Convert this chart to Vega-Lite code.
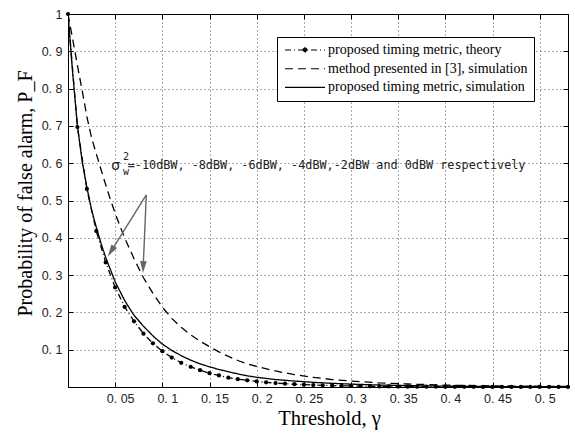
{
  "$schema": "https://vega.github.io/schema/vega-lite/v6.json",
  "width": 500,
  "height": 373,
  "autosize": "none",
  "padding": {"left": 68, "top": 14, "right": 7, "bottom": 48},
  "background": "white",
  "datasets": {
    "curves": [
      {"series": "proposed timing metric, theory", "x": 0.00, "y": 1.0},
      {"series": "proposed timing metric, theory", "x": 0.01, "y": 0.697},
      {"series": "proposed timing metric, theory", "x": 0.02, "y": 0.531},
      {"series": "proposed timing metric, theory", "x": 0.03, "y": 0.418},
      {"series": "proposed timing metric, theory", "x": 0.04, "y": 0.334},
      {"series": "proposed timing metric, theory", "x": 0.05, "y": 0.267},
      {"series": "proposed timing metric, theory", "x": 0.06, "y": 0.215},
      {"series": "proposed timing metric, theory", "x": 0.07, "y": 0.176},
      {"series": "proposed timing metric, theory", "x": 0.08, "y": 0.143},
      {"series": "proposed timing metric, theory", "x": 0.09, "y": 0.117},
      {"series": "proposed timing metric, theory", "x": 0.10, "y": 0.096},
      {"series": "proposed timing metric, theory", "x": 0.11, "y": 0.079},
      {"series": "proposed timing metric, theory", "x": 0.12, "y": 0.065},
      {"series": "proposed timing metric, theory", "x": 0.13, "y": 0.054},
      {"series": "proposed timing metric, theory", "x": 0.14, "y": 0.045},
      {"series": "proposed timing metric, theory", "x": 0.15, "y": 0.037},
      {"series": "proposed timing metric, theory", "x": 0.16, "y": 0.031},
      {"series": "proposed timing metric, theory", "x": 0.17, "y": 0.025},
      {"series": "proposed timing metric, theory", "x": 0.18, "y": 0.021},
      {"series": "proposed timing metric, theory", "x": 0.19, "y": 0.018},
      {"series": "proposed timing metric, theory", "x": 0.20, "y": 0.015},
      {"series": "proposed timing metric, theory", "x": 0.21, "y": 0.0125},
      {"series": "proposed timing metric, theory", "x": 0.22, "y": 0.0105},
      {"series": "proposed timing metric, theory", "x": 0.23, "y": 0.009},
      {"series": "proposed timing metric, theory", "x": 0.24, "y": 0.0075},
      {"series": "proposed timing metric, theory", "x": 0.25, "y": 0.0063},
      {"series": "proposed timing metric, theory", "x": 0.26, "y": 0.0053},
      {"series": "proposed timing metric, theory", "x": 0.27, "y": 0.0045},
      {"series": "proposed timing metric, theory", "x": 0.28, "y": 0.0038},
      {"series": "proposed timing metric, theory", "x": 0.29, "y": 0.0032},
      {"series": "proposed timing metric, theory", "x": 0.30, "y": 0.0027},
      {"series": "proposed timing metric, theory", "x": 0.31, "y": 0.0023},
      {"series": "proposed timing metric, theory", "x": 0.32, "y": 0.0019},
      {"series": "proposed timing metric, theory", "x": 0.33, "y": 0.0016},
      {"series": "proposed timing metric, theory", "x": 0.34, "y": 0.0014},
      {"series": "proposed timing metric, theory", "x": 0.35, "y": 0.0012},
      {"series": "proposed timing metric, theory", "x": 0.36, "y": 0.001},
      {"series": "proposed timing metric, theory", "x": 0.37, "y": 0.0009},
      {"series": "proposed timing metric, theory", "x": 0.38, "y": 0.0008},
      {"series": "proposed timing metric, theory", "x": 0.39, "y": 0.0007},
      {"series": "proposed timing metric, theory", "x": 0.40, "y": 0.0006},
      {"series": "proposed timing metric, theory", "x": 0.41, "y": 0.0005},
      {"series": "proposed timing metric, theory", "x": 0.42, "y": 0.0004},
      {"series": "proposed timing metric, theory", "x": 0.43, "y": 0.0004},
      {"series": "proposed timing metric, theory", "x": 0.44, "y": 0.0003},
      {"series": "proposed timing metric, theory", "x": 0.45, "y": 0.0003},
      {"series": "proposed timing metric, theory", "x": 0.46, "y": 0.0002},
      {"series": "proposed timing metric, theory", "x": 0.47, "y": 0.0002},
      {"series": "proposed timing metric, theory", "x": 0.48, "y": 0.0002},
      {"series": "proposed timing metric, theory", "x": 0.49, "y": 0.0001},
      {"series": "proposed timing metric, theory", "x": 0.50, "y": 0.0001},
      {"series": "proposed timing metric, theory", "x": 0.51, "y": 0.0001},
      {"series": "proposed timing metric, theory", "x": 0.52, "y": 0.0001},
      {"series": "proposed timing metric, theory", "x": 0.53, "y": 0.0001},
      {"series": "method presented in [3], simulation", "x": 0.000, "y": 1.0},
      {"series": "method presented in [3], simulation", "x": 0.005, "y": 0.932},
      {"series": "method presented in [3], simulation", "x": 0.010, "y": 0.862},
      {"series": "method presented in [3], simulation", "x": 0.015, "y": 0.795},
      {"series": "method presented in [3], simulation", "x": 0.020, "y": 0.725},
      {"series": "method presented in [3], simulation", "x": 0.025, "y": 0.668},
      {"series": "method presented in [3], simulation", "x": 0.030, "y": 0.625},
      {"series": "method presented in [3], simulation", "x": 0.035, "y": 0.583},
      {"series": "method presented in [3], simulation", "x": 0.040, "y": 0.542},
      {"series": "method presented in [3], simulation", "x": 0.045, "y": 0.502},
      {"series": "method presented in [3], simulation", "x": 0.050, "y": 0.466},
      {"series": "method presented in [3], simulation", "x": 0.055, "y": 0.432},
      {"series": "method presented in [3], simulation", "x": 0.060, "y": 0.400},
      {"series": "method presented in [3], simulation", "x": 0.070, "y": 0.344},
      {"series": "method presented in [3], simulation", "x": 0.080, "y": 0.293},
      {"series": "method presented in [3], simulation", "x": 0.090, "y": 0.251},
      {"series": "method presented in [3], simulation", "x": 0.100, "y": 0.214},
      {"series": "method presented in [3], simulation", "x": 0.110, "y": 0.184},
      {"series": "method presented in [3], simulation", "x": 0.120, "y": 0.160},
      {"series": "method presented in [3], simulation", "x": 0.130, "y": 0.140},
      {"series": "method presented in [3], simulation", "x": 0.140, "y": 0.123},
      {"series": "method presented in [3], simulation", "x": 0.150, "y": 0.108},
      {"series": "method presented in [3], simulation", "x": 0.160, "y": 0.094},
      {"series": "method presented in [3], simulation", "x": 0.170, "y": 0.082},
      {"series": "method presented in [3], simulation", "x": 0.180, "y": 0.071},
      {"series": "method presented in [3], simulation", "x": 0.190, "y": 0.062},
      {"series": "method presented in [3], simulation", "x": 0.200, "y": 0.055},
      {"series": "method presented in [3], simulation", "x": 0.220, "y": 0.043},
      {"series": "method presented in [3], simulation", "x": 0.240, "y": 0.033},
      {"series": "method presented in [3], simulation", "x": 0.260, "y": 0.026},
      {"series": "method presented in [3], simulation", "x": 0.280, "y": 0.020},
      {"series": "method presented in [3], simulation", "x": 0.300, "y": 0.016},
      {"series": "method presented in [3], simulation", "x": 0.330, "y": 0.011},
      {"series": "method presented in [3], simulation", "x": 0.360, "y": 0.008},
      {"series": "method presented in [3], simulation", "x": 0.400, "y": 0.005},
      {"series": "method presented in [3], simulation", "x": 0.450, "y": 0.003},
      {"series": "method presented in [3], simulation", "x": 0.500, "y": 0.002},
      {"series": "method presented in [3], simulation", "x": 0.530, "y": 0.0015},
      {"series": "proposed timing metric, simulation", "x": 0.000, "y": 1.0},
      {"series": "proposed timing metric, simulation", "x": 0.005, "y": 0.84},
      {"series": "proposed timing metric, simulation", "x": 0.010, "y": 0.70},
      {"series": "proposed timing metric, simulation", "x": 0.015, "y": 0.605},
      {"series": "proposed timing metric, simulation", "x": 0.020, "y": 0.535},
      {"series": "proposed timing metric, simulation", "x": 0.025, "y": 0.475},
      {"series": "proposed timing metric, simulation", "x": 0.030, "y": 0.428},
      {"series": "proposed timing metric, simulation", "x": 0.035, "y": 0.385},
      {"series": "proposed timing metric, simulation", "x": 0.040, "y": 0.347},
      {"series": "proposed timing metric, simulation", "x": 0.050, "y": 0.282},
      {"series": "proposed timing metric, simulation", "x": 0.060, "y": 0.232},
      {"series": "proposed timing metric, simulation", "x": 0.070, "y": 0.192},
      {"series": "proposed timing metric, simulation", "x": 0.080, "y": 0.163},
      {"series": "proposed timing metric, simulation", "x": 0.090, "y": 0.137},
      {"series": "proposed timing metric, simulation", "x": 0.100, "y": 0.115},
      {"series": "proposed timing metric, simulation", "x": 0.110, "y": 0.098},
      {"series": "proposed timing metric, simulation", "x": 0.120, "y": 0.084},
      {"series": "proposed timing metric, simulation", "x": 0.130, "y": 0.072},
      {"series": "proposed timing metric, simulation", "x": 0.140, "y": 0.062},
      {"series": "proposed timing metric, simulation", "x": 0.150, "y": 0.054},
      {"series": "proposed timing metric, simulation", "x": 0.160, "y": 0.047},
      {"series": "proposed timing metric, simulation", "x": 0.170, "y": 0.041},
      {"series": "proposed timing metric, simulation", "x": 0.180, "y": 0.035},
      {"series": "proposed timing metric, simulation", "x": 0.190, "y": 0.030},
      {"series": "proposed timing metric, simulation", "x": 0.200, "y": 0.026},
      {"series": "proposed timing metric, simulation", "x": 0.220, "y": 0.020},
      {"series": "proposed timing metric, simulation", "x": 0.240, "y": 0.016},
      {"series": "proposed timing metric, simulation", "x": 0.260, "y": 0.0125},
      {"series": "proposed timing metric, simulation", "x": 0.280, "y": 0.0098},
      {"series": "proposed timing metric, simulation", "x": 0.300, "y": 0.0077},
      {"series": "proposed timing metric, simulation", "x": 0.330, "y": 0.0053},
      {"series": "proposed timing metric, simulation", "x": 0.360, "y": 0.0037},
      {"series": "proposed timing metric, simulation", "x": 0.400, "y": 0.0023},
      {"series": "proposed timing metric, simulation", "x": 0.450, "y": 0.0013},
      {"series": "proposed timing metric, simulation", "x": 0.500, "y": 0.0008},
      {"series": "proposed timing metric, simulation", "x": 0.530, "y": 0.0006}
    ],
    "arrows": [
      {"arrow": "a", "x": 0.083, "y": 0.515, "x2": 0.0456, "y2": 0.3637},
      {"arrow": "b", "x": 0.083, "y": 0.515, "x2": 0.0797, "y2": 0.3216}
    ],
    "sigma": [
      {"x": 0.0458, "y": 0.593, "t": "σ"}
    ],
    "scripts": [
      {"x": 0.0584, "y": 0.617, "t": "2"},
      {"x": 0.0584, "y": 0.577, "t": "w"}
    ],
    "note": [
      {"x": 0.0633, "y": 0.5956, "t": "=-10dBW,  -8dBW,  -6dBW,  -4dBW,-2dBW and 0dBW respectively"}
    ]
  },
  "layer": [
    {
      "data": {"name": "curves"},
      "mark": {"type": "line", "color": "black", "strokeWidth": 1.3, "clip": true},
      "encoding": {
        "x": {
          "field": "x", "type": "quantitative",
          "scale": {"domain": [0, 0.53], "nice": false, "zero": false},
          "axis": {
            "orient": "bottom",
            "values": [0.05, 0.1, 0.15, 0.2, 0.25, 0.3, 0.35, 0.4, 0.45, 0.5],
            "labelExpr": "replace(format(datum.value, '.2~f'), '.', '. ')",
            "labelFont": "Liberation Sans", "labelFontSize": 12.5, "labelColor": "#222",
            "labelOffset": 5, "labelPadding": 10, "labelFlush": false,
            "tickSize": -5, "tickColor": "black", "tickWidth": 1,
            "domainColor": "black", "domainWidth": 1,
            "grid": true, "gridColor": "#555", "gridDash": [1, 3], "gridWidth": 1,
            "title": "Threshold, γ", "titleFont": "Liberation Serif", "titleFontSize": 20.5,
            "titleFontWeight": "normal", "titleColor": "black", "titlePadding": 4,
            "titleX": 261, "titleAlign": "center"
          }
        },
        "y": {
          "field": "y", "type": "quantitative",
          "scale": {"domain": [0, 1], "nice": false, "zero": false},
          "axis": {
            "orient": "left",
            "values": [0.1, 0.2, 0.3, 0.4, 0.5, 0.6, 0.7, 0.8, 0.9, 1],
            "labelExpr": "replace(format(datum.value, '.1~f'), '.', '. ')",
            "labelFont": "Liberation Sans", "labelFontSize": 12.5, "labelColor": "#222",
            "labelPadding": 11, "labelFlush": false,
            "tickSize": -5, "tickColor": "black", "tickWidth": 1,
            "domainColor": "black", "domainWidth": 1,
            "grid": true, "gridColor": "#555", "gridDash": [1, 3], "gridWidth": 1,
            "title": "Probability of false alarm, P_F", "titleFont": "Liberation Serif", "titleFontSize": 20,
            "titleFontWeight": "normal", "titleColor": "black", "titlePadding": 6,
            "titleY": 179, "titleAlign": "center"
          }
        },
        "order": {"field": "x", "type": "quantitative"},
        "strokeDash": {
          "field": "series", "type": "nominal",
          "scale": {
            "domain": ["proposed timing metric, theory", "method presented in [3], simulation", "proposed timing metric, simulation"],
            "range": [[6, 3, 1, 3], [8, 5], [1, 0]]
          },
          "legend": {
            "title": null, "orient": "none", "legendX": 209, "legendY": 23,
            "symbolType": "M-4,0H4", "symbolSize": 100, "symbolStrokeWidth": 1.2, "symbolStrokeColor": "black",
            "symbolOffset": 15,
            "labelFont": "Liberation Serif", "labelFontSize": 14, "labelColor": "black", "labelLimit": 400,
            "labelOffset": 16, "fillColor": "white", "strokeColor": "black", "padding": 6, "rowPadding": 4.7,
            "encode": {
              "symbols": {
                "update": {
                  "shape": {"signal": "datum.value === 'proposed timing metric, theory' ? 'M-4,0H4M-0.44,0A0.44,0.44,0,1,1,0.44,0A0.44,0.44,0,1,1,-0.44,0Z' : 'M-4,0H4'"},
                  "fill": {"signal": "datum.value === 'proposed timing metric, theory' ? 'black' : 'transparent'"},
                  "stroke": {"value": "black"},
                  "strokeWidth": {"value": 1.2},
                  "opacity": {"value": 1}
                }
              }
            }
          }
        },
        "strokeWidth": {
          "field": "series", "type": "nominal",
          "scale": {
            "domain": ["proposed timing metric, theory", "method presented in [3], simulation", "proposed timing metric, simulation"],
            "range": [1, 1.3, 1.6]
          },
          "legend": null
        }
      }
    },
    {
      "data": {"name": "curves"},
      "transform": [{"filter": "datum.series === 'proposed timing metric, theory'"}],
      "mark": {"type": "point", "filled": true, "size": 18, "color": "black", "opacity": 1},
      "encoding": {
        "x": {
          "field": "x", "type": "quantitative",
          "axis": {"orient": "top", "values": [0.05, 0.1, 0.15, 0.2, 0.25, 0.3, 0.35, 0.4, 0.45, 0.5], "labels": false, "title": null, "grid": false, "tickSize": -5, "tickColor": "black", "domainColor": "black"}
        },
        "y": {
          "field": "y", "type": "quantitative",
          "axis": {"orient": "right", "values": [0.1, 0.2, 0.3, 0.4, 0.5, 0.6, 0.7, 0.8, 0.9, 1], "labels": false, "title": null, "grid": false, "tickSize": -5, "tickColor": "black", "domainColor": "black"}
        }
      }
    },
    {
      "data": {"name": "arrows"},
      "mark": {"type": "rule", "color": "#666", "strokeWidth": 1.4},
      "encoding": {
        "x": {"field": "x", "type": "quantitative", "axis": null},
        "y": {"field": "y", "type": "quantitative", "axis": null},
        "x2": {"field": "x2"},
        "y2": {"field": "y2"}
      }
    },
    {
      "data": {"name": "arrows"},
      "transform": [{"filter": "datum.arrow === 'a'"}],
      "mark": {"type": "point", "shape": "M0,1L-0.55,-1L0.55,-1Z", "size": 144, "filled": true, "color": "#666", "opacity": 1, "angle": 31.9},
      "encoding": {
        "x": {"field": "x2", "type": "quantitative", "axis": null},
        "y": {"field": "y2", "type": "quantitative", "axis": null}
      }
    },
    {
      "data": {"name": "arrows"},
      "transform": [{"filter": "datum.arrow === 'b'"}],
      "mark": {"type": "point", "shape": "M0,1L-0.55,-1L0.55,-1Z", "size": 144, "filled": true, "color": "#666", "opacity": 1, "angle": 2.5},
      "encoding": {
        "x": {"field": "x2", "type": "quantitative", "axis": null},
        "y": {"field": "y2", "type": "quantitative", "axis": null}
      }
    },
    {
      "data": {"name": "sigma"},
      "mark": {"type": "text", "font": "DejaVu Sans", "fontSize": 14, "color": "#222", "align": "left", "baseline": "middle"},
      "encoding": {
        "x": {"field": "x", "type": "quantitative", "axis": null},
        "y": {"field": "y", "type": "quantitative", "axis": null},
        "text": {"field": "t"}
      }
    },
    {
      "data": {"name": "scripts"},
      "mark": {"type": "text", "font": "DejaVu Sans Mono", "fontSize": 10, "color": "#222", "align": "left", "baseline": "middle"},
      "encoding": {
        "x": {"field": "x", "type": "quantitative", "axis": null},
        "y": {"field": "y", "type": "quantitative", "axis": null},
        "text": {"field": "t"}
      }
    },
    {
      "data": {"name": "note"},
      "mark": {"type": "text", "font": "DejaVu Sans Mono", "fontSize": 11.8, "color": "#222", "align": "left", "baseline": "middle"},
      "encoding": {
        "x": {"field": "x", "type": "quantitative", "axis": null},
        "y": {"field": "y", "type": "quantitative", "axis": null},
        "text": {"field": "t"}
      }
    }
  ],
  "resolve": {"axis": {"x": "independent", "y": "independent"}},
  "config": {
    "view": {"stroke": "black", "strokeWidth": 1}
  }
}
